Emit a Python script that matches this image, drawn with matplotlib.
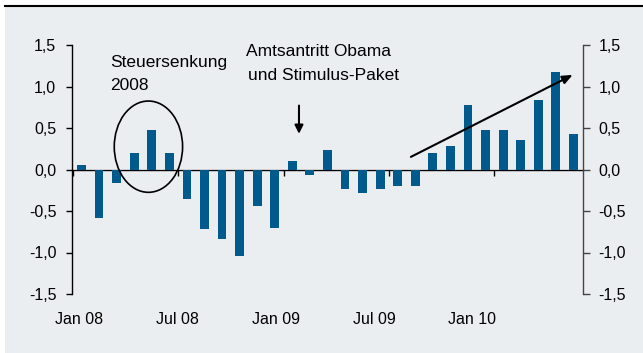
import matplotlib
matplotlib.use("Agg")
import matplotlib.pyplot as plt
from matplotlib.patches import Ellipse, Rectangle
from matplotlib.lines import Line2D

# ---- data ----
months = ["Jan 08", "Feb 08", "Mar 08", "Apr 08", "May 08", "Jun 08", "Jul 08", "Aug 08",
          "Sep 08", "Oct 08", "Nov 08", "Dec 08", "Jan 09", "Feb 09", "Mar 09", "Apr 09",
          "May 09", "Jun 09", "Jul 09", "Aug 09", "Sep 09", "Oct 09", "Nov 09", "Dec 09",
          "Jan 10", "Feb 10", "Mar 10", "Apr 10", "May 10"]
values = [0.06, -0.58, -0.16, 0.20, 0.48, 0.20, -0.35, -0.72, -0.84, -1.04, -0.44, -0.70,
          0.10, -0.07, 0.23, -0.23, -0.28, -0.23, -0.20, -0.20, 0.20, 0.28, 0.78, 0.48,
          0.47, 0.36, 0.84, 1.17, 0.43]
ytick_values = [-1.5, -1.0, -0.5, 0.0, 0.5, 1.0, 1.5]
ytick_labels = ["-1,5", "-1,0", "-0,5", "0,0", "0,5", "1,0", "1,5"]
xtick_labels = ["Jan 08", "Jul 08", "Jan 09", "Jul 09", "Jan 10"]
xtick_label_pos = [-0.15, 5.45, 11.05, 16.65, 22.25]
xtick_mark_pos = [-0.5, 5.5, 11.5, 17.5, 23.5]

BG = "#EBEEF1"
BAR = "#005A8C"
FONT = "Liberation Sans"
FS = 11.5
FS_ANN = 12.5

plt.rcParams["font.family"] = [FONT, "DejaVu Sans"]

W, H = 643, 353
fig = plt.figure(figsize=(W / 100, H / 100), dpi=100)
fig.patch.set_facecolor("white")
fig.patches.append(Rectangle((5 / W, 0), 1 - 5 / W, 1 - 7 / H, transform=fig.transFigure,
                             facecolor=BG, edgecolor="none", zorder=-10))
fig.lines.append(Line2D([5 / W, 1], [1 - 6 / H, 1 - 6 / H], transform=fig.transFigure,
                        color="black", lw=1.5, zorder=-5))

left, right = 72 / W, 582.7 / W
bottom, top = (H - 294) / H, (H - 45) / H
ax = fig.add_axes([left, bottom, right - left, top - bottom])
ax.set_facecolor("none")

x = list(range(len(values)))
ax.bar(x, values, width=0.5, color=BAR, zorder=2)
ax.set_xlim(-0.54, 28.53)
ax.set_ylim(-1.5, 1.5)

for s in ["top", "right", "bottom"]:
    ax.spines[s].set_visible(False)
ax.spines["left"].set_color("black")
ax.spines["left"].set_linewidth(1.0)

ax.set_yticks(ytick_values)
ax.set_yticklabels(ytick_labels, fontsize=FS)
ax.tick_params(axis="y", direction="out", length=4.5, width=1.0, pad=6.8, colors="black")

ax.set_xticks(xtick_label_pos)
ax.set_xticklabels(xtick_labels, fontsize=FS)
ax.tick_params(axis="x", length=0, pad=13)

# zero line with tick marks pointing down
zax = ax.secondary_xaxis(0.5)
zax.xaxis.set_ticks_position("bottom")
zax.set_xticks(xtick_mark_pos)
zax.set_xticklabels([])
zax.tick_params(axis="x", which="both", direction="out", length=4.5, width=1.0, colors="black",
                top=False, bottom=True)
zax.spines["top"].set_visible(False)
zax.spines["bottom"].set_visible(True)
zax.spines["bottom"].set_color("black")
zax.spines["bottom"].set_linewidth(1.0)

# right axis
ax2 = ax.twinx()
ax2.set_ylim(-1.5, 1.5)
for s in ["top", "left", "bottom"]:
    ax2.spines[s].set_visible(False)
ax2.spines["right"].set_color("#444444")
ax2.spines["right"].set_linewidth(1.0)
ax2.set_yticks(ytick_values)
ax2.set_yticklabels(ytick_labels, fontsize=FS)
ax2.tick_params(axis="y", direction="out", length=5, width=1.0, pad=6.5, colors="#444444",
                labelcolor="black")

# annotations
ax.text(1.62, 1.236, "Steuersenkung", fontsize=FS_ANN, ha="left", va="baseline")
ax.text(1.62, 0.955, "2008", fontsize=FS_ANN, ha="left", va="baseline")
ax.text(9.35, 1.369, "Amtsantritt Obama", fontsize=FS_ANN, ha="left", va="baseline")
ax.text(9.46, 1.076, "und Stimulus-Paket", fontsize=FS_ANN, ha="left", va="baseline")

ax.add_patch(Ellipse((3.81, 0.275), 3.89, 1.10, fill=False, edgecolor="black", lw=1.2, zorder=3))

ax.annotate("", xy=(12.38, 0.43), xytext=(12.38, 0.77),
            arrowprops=dict(arrowstyle="-|>,head_width=0.25,head_length=0.5", color="black", lw=1.5,
                            shrinkA=0, shrinkB=0))
ax.annotate("", xy=(27.96, 1.14), xytext=(18.75, 0.152),
            arrowprops=dict(arrowstyle="-|>,head_width=0.25,head_length=0.6", color="black", lw=1.5,
                            shrinkA=0, shrinkB=0))

fig.savefig("out.png", dpi=100, facecolor=fig.get_facecolor())
